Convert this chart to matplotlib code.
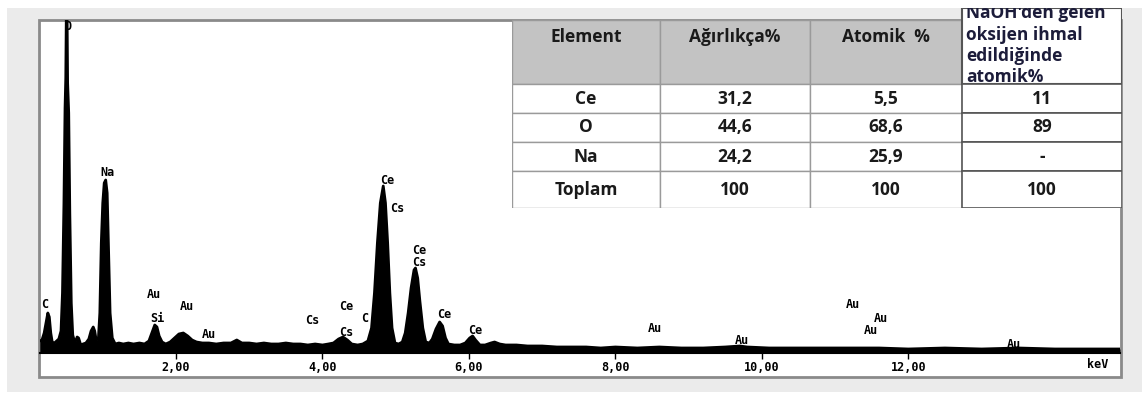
import numpy as np
import matplotlib
matplotlib.use("Agg")
import matplotlib.pyplot as plt
from matplotlib.patches import Rectangle

# EDS spectrum (keV, counts in arbitrary units)
energy_kev = [0.14, 0.17, 0.20, 0.23, 0.25, 0.27, 0.29, 0.31, 0.34, 0.37, 0.40, 0.43,
              0.45, 0.47, 0.485, 0.495, 0.503, 0.512, 0.52, 0.535, 0.55, 0.57, 0.59,
              0.62, 0.65, 0.67, 0.70, 0.73, 0.77, 0.81, 0.84, 0.87, 0.89, 0.91, 0.94,
              0.96, 0.98, 1.00, 1.02, 1.04, 1.06, 1.08, 1.10, 1.13, 1.17, 1.22, 1.28,
              1.35, 1.42, 1.50, 1.57, 1.63, 1.67, 1.71, 1.74, 1.77, 1.81, 1.86, 1.92,
              1.98, 2.04, 2.10, 2.16, 2.22, 2.28, 2.36, 2.45, 2.55, 2.65, 2.75, 2.83,
              2.90, 3.00, 3.10, 3.20, 3.30, 3.40, 3.50, 3.60, 3.70, 3.80, 3.90, 4.00,
              4.08, 4.15, 4.22, 4.28, 4.34, 4.40, 4.48, 4.55, 4.62, 4.67, 4.71, 4.75,
              4.79, 4.83, 4.86, 4.89, 4.92, 4.95, 4.99, 5.04, 5.09, 5.13, 5.17, 5.21,
              5.25, 5.27, 5.30, 5.33, 5.37, 5.41, 5.46, 5.50, 5.55, 5.60, 5.64, 5.68,
              5.72, 5.80, 5.88, 5.95, 6.01, 6.05, 6.09, 6.15, 6.22, 6.30, 6.35, 6.42,
              6.50, 6.65, 6.80, 7.00, 7.20, 7.40, 7.60, 7.80, 8.00, 8.30, 8.60, 8.90,
              9.20, 9.50, 9.70, 9.80, 10.1, 10.4, 10.8, 11.2, 11.6, 12.0, 12.5, 13.0,
              13.5, 14.0, 14.5, 14.89]
counts = [12, 13, 20, 32, 40, 36, 20, 11, 10, 12, 14, 22,
          60, 150, 245, 275, 345, 345, 270, 240, 140, 50, 18,
          10, 16, 15, 8, 9, 10, 14, 22, 26, 22, 13, 14,
          40, 110, 150, 170, 173, 160, 100, 40, 15, 9, 10, 9,
          10, 9, 10, 9, 12, 20, 28, 26, 17, 11, 9, 11,
          15, 19, 20, 17, 13, 11, 10, 10, 9, 10, 10, 13,
          10, 10, 9, 10, 9, 9, 10, 9, 9, 8, 9, 8,
          9, 10, 14, 16, 13, 9, 8, 9, 12, 25, 60, 110,
          150, 167, 150, 110, 60, 25, 10, 9, 11, 20, 40, 65,
          83, 85, 75, 52, 25, 11, 10, 14, 24, 31, 27, 15,
          9, 8, 8, 10, 15, 17, 13, 8, 8, 10, 11, 9,
          8, 8, 7, 7, 6, 6, 6, 5, 6, 5, 6, 5,
          5, 6, 7, 6, 5, 5, 5, 5, 5, 4, 5, 4,
          5, 4, 4, 4]

# peak labels (text, keV, height)
peak_names = ["O", "Na", "C", "Au", "Au", "Si", "Au", "Cs", "Ce", "C", "Cs",
              "Ce", "Cs", "Ce", "Cs", "Ce", "Ce", "Au", "Au", "Au", "Au", "Au", "Au"]
peak_kev = [0.52, 1.06, 0.21, 1.70, 2.15, 1.74, 2.45, 3.86, 4.33, 4.58, 4.33,
            4.88, 5.02, 5.32, 5.32, 5.66, 6.08, 8.54, 9.73, 11.24, 11.62, 11.49, 13.44]
peak_y = [327, 181, 48, 58, 46, 34, 18, 33, 46, 34, 21,
          172, 145, 103, 90, 38, 22, 25, 12, 48, 35, 22, 8]

tick_kev = [2, 4, 6, 8, 10, 12]
tick_labels = ["2,00", "4,00", "6,00", "8,00", "10,00", "12,00"]

# table
table_header = ["Element", "Ağırlıkça%", "Atomik  %",
                "NaOH'den gelen\noksijen ihmal\nedildiğinde\natomik%"]
table_rows = [["Ce", "31,2", "5,5", "11"],
              ["O", "44,6", "68,6", "89"],
              ["Na", "24,2", "25,9", "-"],
              ["Toplam", "100", "100", "100"]]
col_widths = [148, 150, 152, 160]
row_heights = [29, 29, 29, 37]

W, H = 1142, 396
fig = plt.figure(figsize=(W / 100, H / 100), dpi=100)
fig.patch.set_facecolor("white")
tfont = "Open Sans"
mfont = "DejaVu Sans Mono"


def fbox(x0, y0, x1, y1):
    # pixel box (top-left origin) -> figure fraction rect
    return [x0 / W, 1 - y1 / H, (x1 - x0) / W, (y1 - y0) / H]


# slide-like grey background and chart frame
bx = fbox(7, 8, W, 392)
fig.patches.append(Rectangle((bx[0], bx[1]), bx[2], bx[3], transform=fig.transFigure,
                             facecolor="#ebebeb", edgecolor="none", zorder=-2))
fr = fbox(39, 20, 1121, 377)
fig.patches.append(Rectangle((fr[0], fr[1]), fr[2], fr[3], transform=fig.transFigure,
                             facecolor="white", edgecolor="#8a8a8a", lw=2, zorder=-1))

ax = fig.add_axes(fbox(40, 20, 1120, 353))
ax.set_zorder(3)
ax.set_facecolor("none")
ax.fill_between(energy_kev, counts, 0, color="black", lw=0)
ax.plot(energy_kev, counts, color="black", lw=2)
ax.set_xlim(0.143, 14.89)
ax.set_ylim(0, 333)
for s in ["top", "left", "right"]:
    ax.spines[s].set_visible(False)
ax.spines["bottom"].set_color("black")
ax.spines["bottom"].set_linewidth(1.5)
ax.set_yticks([])
ax.set_xticks(tick_kev)
ax.set_xticklabels(tick_labels, family=mfont, weight="bold", fontsize=8.5)
ax.tick_params(axis="x", direction="out", length=4, width=1, pad=2, color="black")
ax.text(14.59, -0.035, "keV", transform=ax.get_xaxis_transform(), ha="center", va="center",
        family=mfont, weight="bold", fontsize=8.5)

for name, e, y in zip(peak_names, peak_kev, peak_y):
    ax.text(e, y, name, ha="center", va="center", family=mfont,
            weight="bold", fontsize=8.5, clip_on=False)

# table drawn on its own axes in pixel units
tx0, ty0 = 512, 8
tw = sum(col_widths)
th = 208 - ty0
tax = fig.add_axes(fbox(tx0, ty0, tx0 + tw, ty0 + th))
tax.set_zorder(4)
tax.set_xlim(0, tw)
tax.set_ylim(th, 0)
tax.axis("off")

head_top = 20 - ty0
head_bot = 84 - ty0
col_x = np.concatenate([[0], np.cumsum(col_widths)])
row_y = np.concatenate([[head_bot], head_bot + np.cumsum(row_heights)])

for j in range(3):
    tax.add_patch(Rectangle((col_x[j], head_top), col_widths[j], head_bot - head_top,
                            facecolor="#c3c3c3", edgecolor="#9a9a9a", lw=1))
    tax.text(col_x[j] + col_widths[j] / 2, 37 - ty0, table_header[j], ha="center",
             va="center", family=tfont, weight="bold", fontsize=12.5, color="#1a1a1a")
    for i in range(len(table_rows)):
        tax.add_patch(Rectangle((col_x[j], row_y[i]), col_widths[j], row_heights[i],
                                facecolor="white", edgecolor="#9a9a9a", lw=1))
        tax.text(col_x[j] + col_widths[j] / 2, row_y[i] + row_heights[i] / 2,
                 table_rows[i][j], ha="center", va="center", family=tfont,
                 weight="bold", fontsize=12.5, color="#1a1a1a")

# last column, darker border, white header
tax.add_patch(Rectangle((col_x[3], 0), col_widths[3], head_bot, facecolor="white",
                        edgecolor="#555555", lw=1.5))
tax.text(col_x[3] + 4, -4, table_header[3], ha="left", va="top", family=tfont,
         weight="bold", fontsize=12.5, color="#1c1c3a", linespacing=1.25, clip_on=True)
for i in range(len(table_rows)):
    tax.add_patch(Rectangle((col_x[3], row_y[i]), col_widths[3], row_heights[i],
                            facecolor="white", edgecolor="#555555", lw=1.2))
    tax.text(col_x[3] + col_widths[3] / 2, row_y[i] + row_heights[i] / 2,
             table_rows[i][3], ha="center", va="center", family=tfont,
             weight="bold", fontsize=12.5, color="#1a1a1a")

fig.savefig("out.png", dpi=100)
